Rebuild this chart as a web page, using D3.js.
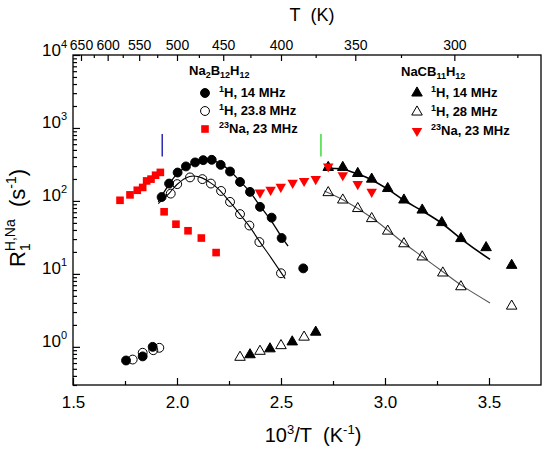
<!DOCTYPE html>
<html><head><meta charset="utf-8">
<script src="https://cdn.jsdelivr.net/npm/d3@7"></script>
<style>body{margin:0;background:#fff}</style>
</head><body>
<svg id="c" width="550" height="450"></svg>
<script>
// ---------- data (x = 10^3/T in K^-1, y = R1 in s^-1) ----------
const b12H14 = [[1.755,0.65],[1.835,0.74],[1.883,1.0],
  [1.926,113],[1.962,173],[2.003,245],[2.043,297],[2.087,337],[2.126,362],[2.167,366],
  [2.21,312],[2.255,253],[2.303,182],[2.351,133],[2.399,83],[2.455,59],[2.503,31],[2.607,11.9]];
const b12H238 = [[1.787,0.67],[1.835,0.83],[1.886,0.90],[1.915,0.97],
  [1.970,126],[2.001,170],[2.0625,210],[2.122,199],[2.163,173],[2.212,137],[2.255,97],
  [2.303,66],[2.348,46],[2.396,27.3],[2.5,10.2]];
const b12Na23 = [[1.726,102],[1.774,121],[1.809,140],[1.835,153],[1.854,188],[1.875,199],
  [1.897,225],[1.920,246],[1.938,71],[1.995,48],[2.053,39],[2.117,31],[2.188,19.6]];
const cbH14 = [[2.351,0.78],[2.447,0.94],[2.554,1.17],[2.667,1.59],
  [2.727,288],[2.797,288],[2.869,238],[2.936,199],[3.013,148],[3.091,103],[3.179,75],
  [3.273,50.5],[3.365,30.5],[3.486,22.9],[3.609,13.1]];
const cbH28 = [[2.303,0.72],[2.399,0.87],[2.5,1.04],[2.611,1.36],
  [2.727,130],[2.797,103],[2.869,78.7],[2.936,57.3],[3.013,38.6],[3.091,25.9],[3.179,17.1],
  [3.278,10.3],[3.365,6.67],[3.609,3.62]];
const cbNa23 = [[2.399,130],[2.450,142],[2.499,156],[2.556,177],[2.611,188],[2.667,199],
  [2.727,297],[2.797,225],[2.869,170],[2.936,133]];
// fit curves
const fitB12H14 = [[1.91,97],[1.95,150],[2.0,235],[2.05,300],[2.1,345],[2.15,365],[2.2,335],
  [2.25,265],[2.3,190],[2.35,133],[2.4,85],[2.45,55],[2.5,33],[2.534,24]];
const fitB12H238 = [[1.91,92],[1.96,125],[2.0,168],[2.04,205],[2.08,220],[2.12,207],[2.16,178],
  [2.2,145],[2.25,100],[2.3,67],[2.35,44],[2.4,27],[2.45,17],[2.52,8.6]];
const fitCbH14 = [[2.708,281],[2.797,272],[2.869,233],[2.936,194],[3.013,145],[3.091,102],
  [3.179,73],[3.273,49.4],[3.364,30.5],[3.505,15.8]];
const fitCbH28 = [[2.708,137],[2.8,103],[2.94,58],[3.09,26.5],[3.18,17.2],[3.28,10.6],
  [3.37,6.9],[3.505,4.0]];
// phase-transition marks
const blueMark = [[1.929,405],[1.929,825]];
const greenMark = [[2.692,405],[2.692,825]];
// ticks
const xMajor = [1.5,2.0,2.5,3.0,3.5];
const xMinor = [1.75,2.25,2.75,3.25];
const tMajor = [650,600,550,500,450,400,350,300];
const tMinor = [625,575,525,475,425,375,325,275];
const yMajor = [1,10,100,1000,10000];
const yMinor = [0.3,0.4,0.5,0.6,0.7,0.8,0.9,2,3,4,5,6,7,8,9,20,30,40,50,60,70,80,90,
  200,300,400,500,600,700,800,900,2000,3000,4000,5000,6000,7000,8000,9000];

// ---------- layout ----------
const L=73,R=541,T=55,B=385;
const FONT="Arial, 'Liberation Sans', Helvetica, sans-serif";
const RED="#ff0000";
const x=d3.scaleLinear().domain([1.5,3.75]).range([L,R]);
const y=d3.scaleLog().domain([0.3,1e4]).range([B,T]);
const svg=d3.select("#c").attr("font-family",FONT);

function styleAxis(g,fs){
  g.select(".domain").remove();
  g.attr("font-family",FONT).attr("font-size",fs);
  g.selectAll(".tick line").attr("stroke","#000").attr("stroke-width",1.2);
  g.selectAll(".tick text").attr("fill","#000");
}
function rich(t,parts){
  let cur=0;
  parts.forEach(p=>{
    const s=p.s||0;
    const ts=t.append("tspan").text(p.t).attr("dy",s-cur);
    if(p.f) ts.attr("font-size",p.f);
    if(p.dx) ts.attr("dx",p.dx);
    cur=s;
  });
}
// bottom
svg.append("g").attr("transform",`translate(0,${B})`)
  .call(d3.axisBottom(x).tickValues(xMajor).tickSizeInner(-7).tickSizeOuter(0).tickPadding(11).tickFormat(d3.format(".1f")))
  .call(g=>styleAxis(g,17));
svg.append("g").attr("transform",`translate(0,${B})`)
  .call(d3.axisBottom(x).tickValues(xMinor).tickSizeInner(-4).tickSizeOuter(0).tickFormat(()=>""))
  .call(g=>styleAxis(g,17));
// top (temperature)
svg.append("g").attr("transform",`translate(0,${T})`)
  .call(d3.axisTop(x).tickValues(tMajor.map(t=>1000/t)).tickSizeInner(-6).tickSizeOuter(0).tickPadding(5)
    .tickFormat((d,i)=>tMajor[i]))
  .call(g=>styleAxis(g,14));
svg.append("g").attr("transform",`translate(0,${T})`)
  .call(d3.axisTop(x).tickValues(tMinor.map(t=>1000/t)).tickSizeInner(-3).tickSizeOuter(0).tickFormat(()=>""))
  .call(g=>styleAxis(g,14));
// left
svg.append("g").attr("transform",`translate(${L},0)`)
  .call(d3.axisLeft(y).tickValues(yMajor).tickSizeInner(-7).tickSizeOuter(0).tickPadding(6).tickFormat(()=>""))
  .call(g=>styleAxis(g,17))
  .call(g=>g.selectAll(".tick text").attr("dy","0.5em").each(function(d){
    const t=d3.select(this);
    rich(t,[{t:"10"},{t:String(Math.round(Math.log10(d))),f:11,s:-8}]);
  }));
svg.append("g").attr("transform",`translate(${L},0)`)
  .call(d3.axisLeft(y).tickValues(yMinor).tickSizeInner(-4).tickSizeOuter(0).tickFormat(()=>""))
  .call(g=>styleAxis(g,17));
// frame
svg.append("rect").attr("x",L).attr("y",T).attr("width",R-L).attr("height",B-T)
  .attr("fill","none").attr("stroke","#000").attr("stroke-width",1.3);

// titles
rich(svg.append("text").attr("x",313).attr("y",442).attr("text-anchor","middle").attr("font-size",20),
  [{t:"10"},{t:"3",f:13,s:-8},{t:"/T\u00A0\u00A0(K"},{t:"-1",f:13,s:-8},{t:")"}]);
svg.append("text").attr("x",312).attr("y",21).attr("text-anchor","middle").attr("font-size",18)
  .text("T\u00A0\u00A0(K)");
rich(svg.append("text").attr("transform","translate(25,267) rotate(-90)").attr("font-size",22),
  [{t:"R"},{t:"1",f:14,s:5},{t:"H,Na",f:14,s:-10,dx:-7.8},{t:"\u00A0\u00A0(s"},{t:"-1",f:14,s:-9},{t:")"}]);

// fit lines
const line=d3.line().x(d=>x(d[0])).y(d=>y(d[1])).curve(d3.curveCatmullRom.alpha(0.5));
const fits=[[fitB12H14,"#000",1.3],[fitB12H238,"#000",1.1],[fitCbH14,"#000",1.6],[fitCbH28,"#555",1.1]];
svg.append("g").selectAll("path").data(fits).join("path")
  .attr("d",d=>line(d[0])).attr("fill","none").attr("stroke",d=>d[1]).attr("stroke-width",d=>d[2]);
// transition marks
const lin=d3.line().x(d=>x(d[0])).y(d=>y(d[1]));
svg.append("path").attr("d",lin(blueMark)).attr("stroke","#2b2bb0").attr("stroke-width",1.5);
svg.append("path").attr("d",lin(greenMark)).attr("stroke","#3ddc3d").attr("stroke-width",1.5);

// markers
const sym={
  circ:d3.symbol(d3.symbolCircle,62)(),
  sq:d3.symbol(d3.symbolSquare,58)(),
  tri:d3.symbol(d3.symbolTriangle,48)()
};
function pts(data,shape,fill,stroke,rot){
  svg.append("g").selectAll("path").data(data).join("path")
    .attr("d",sym[shape])
    .attr("transform",d=>`translate(${x(d[0])},${y(d[1])})`+(rot?" rotate(180)":""))
    .attr("fill",fill).attr("stroke",stroke).attr("stroke-width",1);
}
pts(b12H238,"circ","none","#000");
pts(b12H14,"circ","#000","#000");
pts(b12Na23,"sq",RED,"none");
pts(cbH28,"tri","none","#000");
pts(cbH14,"tri","#000","#000");
pts(cbNa23,"tri",RED,"none",true);

// legends
function legendMark(cx,cy,shape,fill,stroke,rot){
  svg.append("path").attr("d",sym[shape])
    .attr("transform",`translate(${cx},${cy})`+(rot?" rotate(180)":""))
    .attr("fill",fill).attr("stroke",stroke).attr("stroke-width",1);
}
function legendText(tx,ty,parts){
  rich(svg.append("text").attr("x",tx).attr("y",ty).attr("font-size",13).attr("font-weight","bold"),parts);
}
legendText(189,75,[{t:"Na"},{t:"2",f:9,s:3},{t:"B"},{t:"12",f:9,s:3},{t:"H"},{t:"12",f:9,s:3}]);
legendMark(205,93,"circ","#000","#000");
legendText(219,97,[{t:"1",f:9,s:-5},{t:"H, 14 MHz"}]);
legendMark(205,111,"circ","none","#000");
legendText(219,115,[{t:"1",f:9,s:-5},{t:"H, 23.8 MHz"}]);
legendMark(205,129,"sq",RED,"none");
legendText(219,133,[{t:"23",f:9,s:-5},{t:"Na, 23 MHz"}]);

legendText(401,76,[{t:"NaCB"},{t:"11",f:9,s:3},{t:"H"},{t:"12",f:9,s:3}]);
legendMark(417,93,"tri","#000","#000");
legendText(431,97,[{t:"1",f:9,s:-5},{t:"H, 14 MHz"}]);
legendMark(417,112,"tri","none","#000");
legendText(431,116,[{t:"1",f:9,s:-5},{t:"H, 28 MHz"}]);
legendMark(417,131,"tri",RED,"none",true);
legendText(431,135,[{t:"23",f:9,s:-5},{t:"Na, 23 MHz"}]);
</script>
</body></html>
